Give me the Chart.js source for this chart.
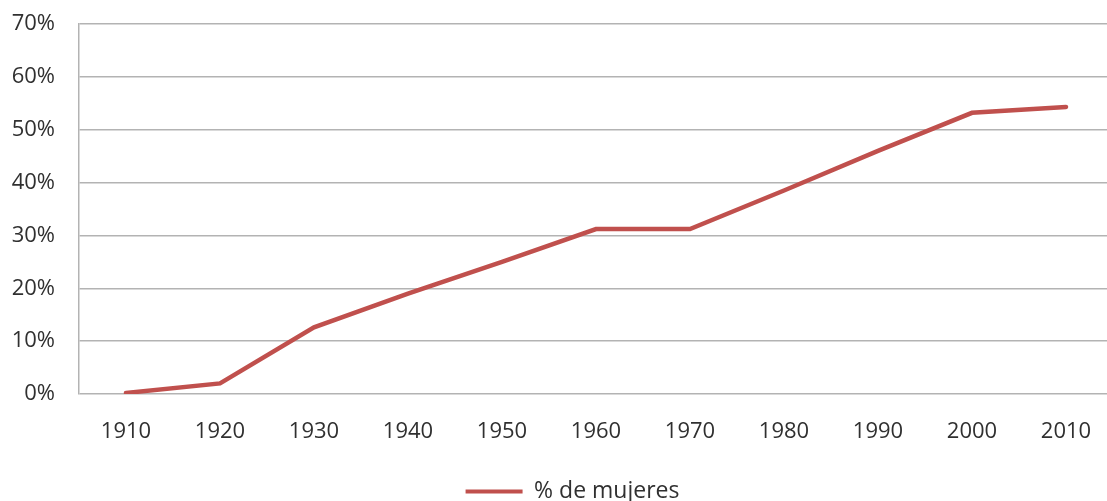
<!DOCTYPE html>
<html lang="es">
<head>
    <meta charset="UTF-8">
    <title>% de mujeres</title>
    <style>
        html, body {
            margin: 0;
            padding: 0;
            background: #ffffff;
            overflow: hidden;
        }
        #wrap {
            width: 1113px;
            height: 501px;
        }
    </style>
</head>
<body>
    <div id="wrap"><canvas id="chart" width="1113" height="501"></canvas></div>

    <script src="https://cdn.jsdelivr.net/npm/chart.js"></script>
    <script>
        // 年（カテゴリ）
        const years = ['1910', '1920', '1930', '1940', '1950', '1960', '1970', '1980', '1990', '2000', '2010'];
        // 女性の割合（0〜1）
        const mujeres = [0.002, 0.02, 0.126, 0.19, 0.25, 0.312, 0.312, 0.385, 0.46, 0.532, 0.543];
        const seriesName = '% de mujeres';

        const textColor = '#303030';
        const lineColor = '#c0504d';
        const gridColor = '#b3b3b3';
        const fontFamily = '"Open Sans", sans-serif';

        // 凡例を少し右下へずらして描く
        const legendShift = {
            id: 'legendShift',
            afterInit(chart) {
                const lg = chart.legend;
                const orig = lg.draw.bind(lg);
                lg.draw = function (area) {
                    const c = chart.ctx;
                    c.save();
                    c.translate(16, 12);
                    orig(area);
                    c.restore();
                };
            }
        };

        const ctx = document.getElementById('chart').getContext('2d');
        new Chart(ctx, {
            type: 'line',
            data: {
                labels: years,
                datasets: [{
                    label: seriesName,
                    data: mujeres,
                    borderColor: lineColor,
                    backgroundColor: lineColor,
                    borderWidth: 4.5,
                    pointRadius: 0,
                    tension: 0,
                    borderCapStyle: 'round'
                }]
            },
            plugins: [legendShift],
            options: {
                responsive: false,
                animation: false,
                layout: { padding: 0 },
                plugins: {
                    tooltip: { enabled: false },
                    legend: {
                        position: 'bottom',
                        labels: {
                            color: textColor,
                            font: { family: fontFamily, size: 23 },
                            boxWidth: 57,
                            boxHeight: 4,
                            padding: 0,
                            generateLabels: (chart) => {
                                const items = Chart.defaults.plugins.legend.labels.generateLabels(chart);
                                items.forEach(it => { it.lineWidth = 0; it.fillStyle = lineColor; });
                                return items;
                            }
                        }
                    }
                },
                scales: {
                    x: {
                        offset: true,
                        grid: { display: false, drawTicks: false },
                        border: { display: false },
                        ticks: {
                            color: textColor,
                            font: { family: fontFamily, size: 22 },
                            padding: 25,
                            maxRotation: 0
                        },
                        afterFit: (scale) => {
                            scale.height = 74;
                            scale.paddingLeft = 0;
                            scale.paddingRight = 0;
                        }
                    },
                    y: {
                        min: 0,
                        max: 0.7,
                        grid: { color: gridColor, lineWidth: 1.5, drawTicks: false },
                        border: { display: true, color: gridColor, width: 1.5 },
                        ticks: {
                            stepSize: 0.1,
                            color: textColor,
                            font: { family: fontFamily, size: 22 },
                            padding: 24,
                            callback: (v) => Math.round(v * 100) + '%'
                        },
                        afterFit: (scale) => {
                            scale.width = 79;
                            scale.paddingTop = 24;
                            scale.paddingBottom = 0;
                        }
                    }
                }
            }
        });
    </script>
</body>
</html>
